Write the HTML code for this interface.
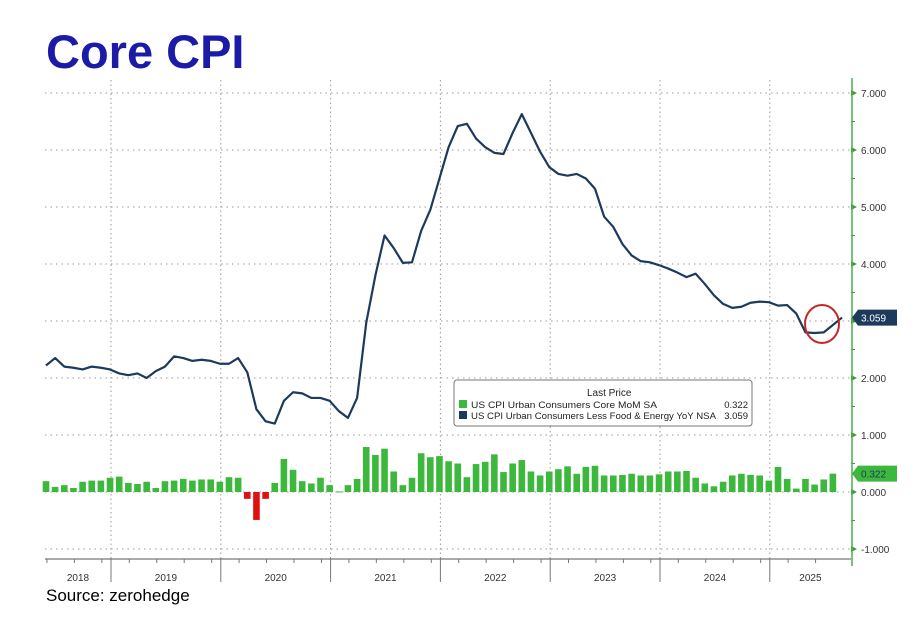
<!DOCTYPE html>
<html><head><meta charset="utf-8"><style>
body{margin:0;width:923px;height:627px;background:#fff;overflow:hidden;font-family:"Liberation Sans",sans-serif}
svg{position:absolute;left:0;top:0}
</style></head><body>
<svg id="chart" width="923" height="627" viewBox="0 0 923 627" xmlns="http://www.w3.org/2000/svg">
<text x="46" y="68" font-size="47" font-weight="bold" fill="#1b1ba8" font-family="Liberation Sans, sans-serif">Core CPI</text>
<text x="46" y="601" font-size="17" fill="#000" font-family="Liberation Sans, sans-serif">Source: zerohedge</text>
<g id="grid"></g>
<g id="bars"></g>
<g id="line"></g>
<g id="axes"></g>
<g>
<rect x="454" y="380" width="298" height="46" rx="3" fill="#fff" stroke="#777" stroke-width="1"/>
<text x="587" y="396" font-size="10" fill="#222">Last Price</text>
<rect x="459" y="400" width="8" height="8" fill="#3cb83c"/>
<text x="471" y="408" font-size="9.5" fill="#222" textLength="186" lengthAdjust="spacingAndGlyphs">US CPI Urban Consumers Core MoM SA</text>
<text x="748" y="408" font-size="9.5" fill="#222" text-anchor="end">0.322</text>
<rect x="459" y="411" width="8" height="8" fill="#1d3a5c"/>
<text x="471" y="419" font-size="9.5" fill="#222" textLength="245" lengthAdjust="spacingAndGlyphs">US CPI Urban Consumers Less Food &amp; Energy YoY NSA</text>
<text x="748" y="419" font-size="9.5" fill="#222" text-anchor="end">3.059</text>
</g>
<ellipse cx="822" cy="324" rx="17" ry="19" fill="none" stroke="#c62828" stroke-width="2"/>
</svg>
<script>
const yoyValues=[2.22,2.35,2.2,2.18,2.15,2.2,2.18,2.15,2.08,2.05,2.08,2.0,2.12,2.2,2.38,2.35,2.3,2.32,2.3,2.25,2.25,2.35,2.1,1.45,1.24,1.2,1.6,1.75,1.73,1.65,1.65,1.6,1.42,1.3,1.65,2.97,3.8,4.5,4.28,4.02,4.03,4.58,4.95,5.5,6.05,6.42,6.46,6.2,6.05,5.95,5.93,6.3,6.63,6.3,5.97,5.7,5.58,5.55,5.58,5.5,5.32,4.83,4.65,4.35,4.15,4.05,4.03,3.98,3.92,3.85,3.77,3.83,3.65,3.45,3.3,3.23,3.25,3.32,3.34,3.33,3.27,3.28,3.13,2.8,2.79,2.8,2.93,3.06];
const momValues=[0.19,0.09,0.12,0.07,0.18,0.2,0.2,0.25,0.27,0.16,0.14,0.18,0.07,0.19,0.2,0.23,0.2,0.22,0.22,0.18,0.26,0.25,-0.12,-0.49,-0.12,0.16,0.58,0.39,0.19,0.15,0.25,0.12,0.01,0.12,0.23,0.79,0.65,0.76,0.36,0.12,0.25,0.68,0.61,0.63,0.54,0.5,0.26,0.49,0.53,0.66,0.35,0.5,0.56,0.36,0.29,0.36,0.4,0.45,0.32,0.44,0.46,0.29,0.29,0.3,0.32,0.29,0.29,0.31,0.36,0.36,0.37,0.25,0.15,0.1,0.18,0.29,0.32,0.3,0.29,0.2,0.44,0.23,0.06,0.23,0.13,0.22,0.322];
const yTicks=[7,6,5,4,3,2,1,0,-1];
const yTickLabels=["7.000","6.000","5.000","4.000","3.000","2.000","1.000","0.000","-1.000"];
const years=["2018","2019","2020","2021","2022","2023","2024","2025"];
const yearStartIndex=[0,8,20,32,44,56,68,80];

const NS="http://www.w3.org/2000/svg";
function y(v){return 492-v*57;}
function x(i){return 46+i*9.15;}
function bnd(i){return x(i)-8.2;}
function mk(t,a,p){const e=document.createElementNS(NS,t);for(const k in a)e.setAttribute(k,a[k]);p.appendChild(e);return e;}
const grid=document.getElementById('grid'),bars=document.getElementById('bars'),line=document.getElementById('line'),axes=document.getElementById('axes');
yTicks.forEach((v,k)=>{
 const g=mk('line',{x1:45,x2:851,y1:y(v),y2:y(v),stroke:'#999','stroke-width':1,'stroke-dasharray':'1.5,4'},grid);
 
 
 mk('path',{d:`M851 ${y(v)-3}L857 ${y(v)}L851 ${y(v)+3}Z`,fill:'#3a9a3a'},axes);
 const t=mk('text',{x:861,y:y(v)+4,'font-size':10,fill:'#333'},axes);
 t.textContent=yTickLabels[k];
 
 
 if(k<yTicks.length-1) mk('line',{x1:851,x2:855,y1:y(v-0.5),y2:y(v-0.5),stroke:'#3a9a3a'},axes);
});
mk('line',{x1:45,x2:851,y1:559,y2:559,stroke:'#555','stroke-width':1},axes);
years.forEach((yr,k)=>{
 const s=yearStartIndex[k];
 const bx=(k===0)?45:bnd(s);
 if(k>0){
  mk('line',{x1:bx,x2:bx,y1:80,y2:559,stroke:'#999','stroke-dasharray':'1.5,3'},grid);
  mk('line',{x1:bx,x2:bx,y1:559,y2:582,stroke:'#777'},axes);
 }
 const ex=(k<years.length-1)?bnd(yearStartIndex[k+1]):851;
 const t=mk('text',{x:(bx+ex)/2,y:581,'font-size':10,fill:'#333','text-anchor':'middle'},axes);
 t.textContent=yr;
 
 
});
for(let i=0;i<momValues.length;i++){ if((i+5)%3===0) mk('line',{x1:bnd(i),x2:bnd(i),y1:559,y2:563,stroke:'#777'},axes); }
mk('line',{x1:852,x2:852,y1:78,y2:566,stroke:'#4caf50','stroke-width':1.5},axes);
momValues.forEach((v,i)=>{
 const top=Math.min(y(v),y(0)),h=Math.abs(y(v)-y(0));
 const r=mk('rect',{x:x(i)-3.3,y:top,width:6.6,height:Math.max(h,1),fill:v<0?'#e01010':'#3cb83c'},bars);
 
 
});
const p=mk('polyline',{points:yoyValues.map((v,i)=>x(i)+','+y(v)).join(' '),fill:'none',stroke:'#1d3a5c','stroke-width':2.2,'stroke-linejoin':'round'},line);


function tag(v,label,bg,fg,name){
 const yy=y(v);
 const t=mk('path',{d:`M852 ${yy}L858 ${yy-8}H897V${yy+8}H858Z`,fill:bg},axes);
 
 
 const tx=mk('text',{x:861,y:yy+4,'font-size':10,fill:fg},axes);
 tx.textContent=label;
}
tag(yoyValues[yoyValues.length-1],'3.059','#1d3a5c','#fff','yoy-last-tag');
tag(momValues[momValues.length-1],'0.322','#3cb83c','#1d3a5c','mom-last-tag');
</script>
</body></html>
